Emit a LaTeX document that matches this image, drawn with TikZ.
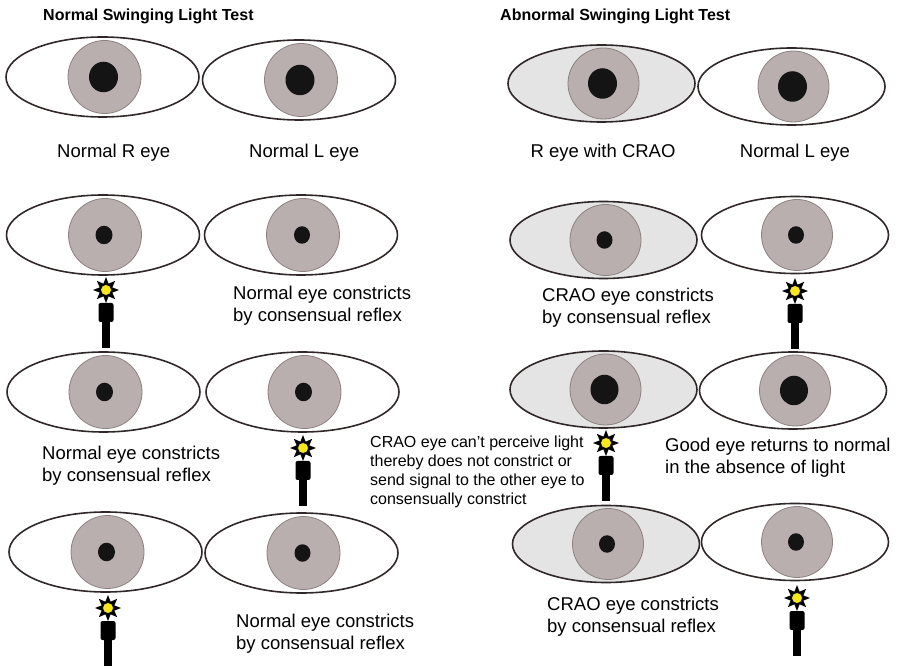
\documentclass[tikz,border=0pt]{standalone}
\usepackage{fontspec}
\setmainfont{Liberation Sans}
\usetikzlibrary{shapes.geometric}

\definecolor{lidline}{RGB}{48,40,40}
\definecolor{irisfill}{RGB}{184,175,174}
\definecolor{irisline}{RGB}{140,130,128}
\definecolor{craofill}{RGB}{228,228,228}
\definecolor{bulb}{RGB}{250,232,20}

\tikzset{
  eyeball/.style={ellipse, draw=lidline, line width=1.6pt, inner sep=0pt, outer sep=0pt},
  irisdisc/.style={circle, fill=irisfill, draw=irisline, line width=0.8pt, inner sep=0pt},
  pupildisc/.style={ellipse, fill=black!92, inner sep=0pt},
  bulbdot/.style={circle, fill=bulb, draw=black, line width=0.7pt, minimum size=11pt, inner sep=0pt},
  headline/.style={font=\bfseries\fontsize{16}{19}\selectfont, anchor=base west, inner sep=0pt},
  eyetext/.style={font=\fontsize{18.5}{22}\selectfont, inner sep=0pt},
  notetext/.style={font=\fontsize{16}{19}\selectfont, inner sep=0pt, anchor=base west},
}

% lines of a caption, the first baseline being the node's base
\newcommand{\textlines}[1]{\begin{tabular}[t]{@{}l@{}}#1\end{tabular}}

% an eye: name, centre, width, height, white fill, iris diameter, pupil diameter
\newcommand{\eyeat}[7]{%
  \node[eyeball, fill=#5, minimum width=#3, minimum height=#4] (#1) at #2 {};
  \node[irisdisc, minimum size=#6] (#1-iris) at ([xshift=2pt]#1.center) {};
  \node[pupildisc, minimum width=#7, minimum height=#7+1.5pt] (#1-pupil) at ([xshift=1pt]#1.center) {};
}

% a penlight pointing up, given by the centre of its bulb
\newcommand{\torchat}[2]{%
  \begin{scope}[shift={#2}]
    \fill[black] (0:13) \foreach \a in {0,45,...,315}{ -- (\a:13) -- (\a+22.5:6.8)} -- cycle;
    \fill[black, rounded corners=2pt] (-7.5,13) rectangle (7.5,32);
    \fill[black] (-4,30) rectangle (4,58);
    \node[bulbdot] (#1) at (0,0) {};
  \end{scope}
}

\begin{document}
\begin{tikzpicture}[x=1pt, y=-1pt]
  \fill[white] (0,0) rectangle (898,668);
  \useasboundingbox (0,0) rectangle (898,668);

  % ---------- normal test ----------
  \node[headline] (titleA) at (43,21) {Normal Swinging Light Test};

  \eyeat{a1r}{(102.5,77)}{193pt}{80pt}{white}{73pt}{29pt}
  \eyeat{a1l}{(299,80)}{193pt}{80pt}{white}{73pt}{29pt}
  \node[eyetext, anchor=base west] (a1rtext) at (57,158) {Normal R eye};
  \node[eyetext, anchor=base west] (a1ltext) at (249,158) {Normal L eye};

  \eyeat{a2r}{(103,235)}{193pt}{80pt}{white}{73pt}{17pt}
  \eyeat{a2l}{(301,235)}{193pt}{80pt}{white}{73pt}{16pt}
  \torchat{a2light}{(106,290)}
  \node[eyetext, anchor=base west] (a2text) at (233,300)
    {\textlines{Normal eye constricts\\by consensual reflex}};

  \eyeat{a3r}{(103.5,392)}{193pt}{80pt}{white}{73pt}{17pt}
  \eyeat{a3l}{(302.5,392)}{193pt}{80pt}{white}{73pt}{17pt}
  \torchat{a3light}{(303,448)}
  \node[eyetext, anchor=base west] (a3text) at (42,460)
    {\textlines{Normal eye constricts\\by consensual reflex}};

  \eyeat{a4r}{(105.5,552)}{193pt}{80pt}{white}{73pt}{17pt}
  \eyeat{a4l}{(301.5,553)}{193pt}{80pt}{white}{73pt}{16pt}
  \torchat{a4light}{(108,608)}
  \node[eyetext, anchor=base west] (a4text) at (236,627)
    {\textlines{Normal eye constricts\\by consensual reflex}};

  % ---------- abnormal test ----------
  \node[headline] (titleB) at (500,21) {Abnormal Swinging Light Test};

  \eyeat{b1r}{(601.5,83.5)}{187pt}{77pt}{craofill}{71pt}{29pt}
  \eyeat{b1l}{(791.5,86.5)}{187pt}{77pt}{white}{71pt}{29pt}
  \node[eyetext, anchor=base] (b1rtext) at (603,158) {R eye with CRAO};
  \node[eyetext, anchor=base] (b1ltext) at (795,158) {Normal L eye};

  \eyeat{b2r}{(603.5,240)}{187pt}{77pt}{craofill}{71pt}{16pt}
  \eyeat{b2l}{(795,235)}{187pt}{77pt}{white}{71pt}{16pt}
  \torchat{b2light}{(795,291)}
  \node[eyetext, anchor=base west] (b2text) at (542,302)
    {\textlines{CRAO eye constricts\\by consensual reflex}};

  \eyeat{b3r}{(603.5,389.5)}{187pt}{77pt}{craofill}{71pt}{28pt}
  \eyeat{b3l}{(793,390.5)}{187pt}{77pt}{white}{71pt}{28pt}
  \torchat{b3light}{(606,443)}
  \node[notetext] (b3note) at (370,448)
    {\textlines{CRAO eye can’t perceive light\\thereby does not constrict or\\send signal to the other eye to\\consensually constrict}};
  \node[eyetext, anchor=base west] (b3text) at (665,452)
    {\textlines{Good eye returns to normal\\in the absence of light}};

  \eyeat{b4r}{(606,544)}{187pt}{77pt}{craofill}{71pt}{16pt}
  \eyeat{b4l}{(795,542)}{187pt}{77pt}{white}{71pt}{16pt}
  \torchat{b4light}{(797,598)}
  \node[eyetext, anchor=base west] (b4text) at (547,610)
    {\textlines{CRAO eye constricts\\by consensual reflex}};
\end{tikzpicture}
\end{document}
